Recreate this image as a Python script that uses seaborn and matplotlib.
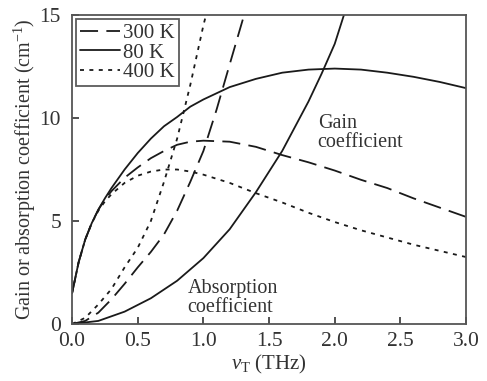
import matplotlib
matplotlib.use("Agg")
import matplotlib.pyplot as plt
import seaborn as sns

# ---- data ----
v_gain = [0, 0.05, 0.1, 0.15, 0.2, 0.25, 0.3, 0.4, 0.5, 0.6, 0.7, 0.8, 0.9, 1.0,
          1.2, 1.4, 1.6, 1.8, 2.0, 2.2, 2.4, 2.6, 2.8, 3.0]
gain_80K = [1.5, 3.0, 4.1, 4.9, 5.55, 6.1, 6.6, 7.5, 8.3, 9.0, 9.6, 10.05, 10.55, 10.9,
            11.5, 11.9, 12.2, 12.35, 12.4, 12.35, 12.2, 12.0, 11.75, 11.45]
gain_300K = [1.5, 3.0, 4.1, 4.9, 5.55, 6.05, 6.45, 7.1, 7.6, 8.05, 8.4, 8.7, 8.85, 8.9,
             8.85, 8.6, 8.2, 7.85, 7.45, 7.0, 6.6, 6.1, 5.65, 5.2]
gain_400K = [1.5, 3.0, 4.1, 4.9, 5.5, 5.95, 6.3, 6.85, 7.2, 7.4, 7.5, 7.5, 7.4, 7.25,
             6.85, 6.35, 5.9, 5.4, 4.95, 4.55, 4.2, 3.85, 3.55, 3.25]

v_abs_80K = [0, 0.2, 0.4, 0.6, 0.8, 1.0, 1.2, 1.4, 1.6, 1.8, 1.9, 2.0, 2.07]
abs_80K = [0, 0.15, 0.6, 1.25, 2.1, 3.2, 4.6, 6.4, 8.4, 10.8, 12.15, 13.6, 15.0]
v_abs_300K = [0, 0.1, 0.2, 0.3, 0.4, 0.5, 0.6, 0.7, 0.8, 0.9, 1.0, 1.1, 1.2, 1.31]
abs_300K = [0, 0.15, 0.55, 1.2, 1.95, 2.75, 3.5, 4.35, 5.5, 6.9, 8.4, 10.4, 12.6, 15.0]
v_abs_400K = [0, 0.1, 0.2, 0.3, 0.4, 0.5, 0.6, 0.7, 0.8, 0.9, 1.0, 1.02]
abs_400K = [0, 0.3, 0.95, 1.7, 2.75, 3.7, 5.0, 6.9, 9.0, 11.6, 14.5, 15.0]

x_ticks = [0.0, 0.5, 1.0, 1.5, 2.0, 2.5, 3.0]
y_ticks = [0, 5, 10, 15]

sns.set_theme(style="ticks")
plt.rcParams['font.family'] = ['Liberation Serif', 'DejaVu Serif']
plt.rcParams['mathtext.fontset'] = 'custom'
plt.rcParams['mathtext.rm'] = 'Liberation Serif'
plt.rcParams['mathtext.it'] = 'Liberation Serif:italic'

fig = plt.figure(figsize=(4.87, 3.81), dpi=100)
ax = fig.add_axes([0.148, 0.1496, 0.809, 0.811])

lw = 1.3
ink = '#1a1a1a'
txt = '#333333'
styles = {
    '300 K': (0, (10, 4.6)),
    '80 K': '-',
    '400 K': (0, (2.2, 3.0)),
}
gains = {'300 K': gain_300K, '80 K': gain_80K, '400 K': gain_400K}
absd = {'300 K': (v_abs_300K, abs_300K), '80 K': (v_abs_80K, abs_80K),
        '400 K': (v_abs_400K, abs_400K)}

for name in ['300 K', '80 K', '400 K']:
    sns.lineplot(x=v_gain, y=gains[name], ax=ax, color=ink, linewidth=lw,
                 linestyle=styles[name], label=name, sort=False)
for name in ['300 K', '80 K', '400 K']:
    vx, vy = absd[name]
    sns.lineplot(x=vx, y=vy, ax=ax, color=ink, linewidth=lw,
                 linestyle=styles[name], sort=False, legend=False)

ax.set_xlim(0, 3.0)
ax.set_ylim(0, 15)
ax.set_xticks(x_ticks)
ax.set_xticklabels([f"{t:.1f}" for t in x_ticks])
ax.set_yticks(y_ticks)
ax.set_yticklabels([str(t) for t in y_ticks])
ax.tick_params(direction='in', length=5, width=1.2, labelsize=15.5, colors=txt,
               top=False, right=False)
ax.tick_params(axis='x', pad=6)
ax.tick_params(axis='y', pad=8)
for s in ax.spines.values():
    s.set_linewidth(1.3)
    s.set_color('#555555')

ax.set_xlabel(r'$\nu_{\rm T}$ (THz)', fontsize=15, color=txt, labelpad=1)
ax.set_ylabel(r'Gain or absorption coefficient (cm$^{-1}$)', fontsize=14.5,
              color=txt, labelpad=1)

ax.text(1.87, 10.2, 'Gain\ncoefficient', fontsize=14.5, color=txt,
        va='top', ha='left', linespacing=1.0)
ax.text(0.88, 2.2, 'Absorption\ncoefficient', fontsize=14.5, color=txt,
        va='top', ha='left', linespacing=1.0)

leg = ax.legend(loc='upper left', bbox_to_anchor=(0.0, 1.0), fontsize=15,
                frameon=True, fancybox=False, handlelength=1.9, handletextpad=0.15,
                borderpad=0.2, labelspacing=0.0, borderaxespad=0.2)
leg.get_frame().set_edgecolor('#333333')
leg.get_frame().set_linewidth(1.3)
for t in leg.get_texts():
    t.set_color(txt)

fig.savefig('out.png', dpi=100)
